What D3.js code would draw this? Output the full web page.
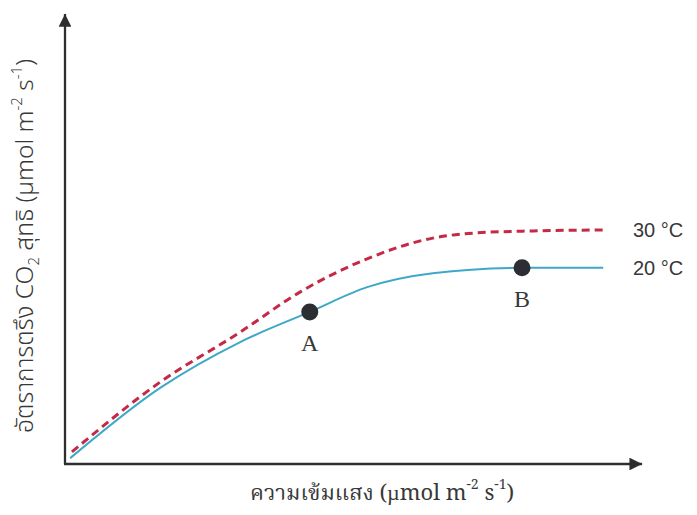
<!DOCTYPE html>
<html>
<head>
<meta charset="utf-8">
<script src="https://cdn.jsdelivr.net/npm/d3@7"></script>
<style>
  html, body { margin: 0; padding: 0; background: #fff; }
  svg { display: block; }
</style>
</head>
<body>
<svg id="chart" width="697" height="515"></svg>
<script>
// Light intensity (relative units) and net CO2 fixation rate (relative units)
const light20 = [0.9, 16.4, 30.2, 42.2, 52.1, 63.4, 78.8, 92.8];
const rate20  = [1.3, 16.9, 27.1, 33.8, 39.3, 42.4, 43.6, 43.6];
const light30 = [1.2, 16.4, 30.2, 40.5, 52.1, 63.4, 70.3, 80.7, 92.8];
const rate30  = [2.7, 18.2, 29.3, 38.2, 45.6, 50.2, 51.3, 51.8, 52.0];

const seriesNames = ["30 °C", "20 °C"];
const markerNames = ["A", "B"];
const markerLight = [42.2, 78.8];
const markerRate  = [33.8, 43.6];

const svg = d3.select("#chart");

const x = d3.scaleLinear().domain([0, 100]).range([65, 645]);
const y = d3.scaleLinear().domain([0, 100]).range([464, 14]);

const axisColor = "#2e2e2e";
const textColor = "#383838";

// Axes with arrowheads
svg.append("defs").append("marker")
  .attr("id", "arrow")
  .attr("viewBox", "0 0 10 10")
  .attr("refX", 10).attr("refY", 5)
  .attr("markerWidth", 7).attr("markerHeight", 5.5)
  .attr("markerUnits", "strokeWidth")
  .attr("orient", "auto")
  .append("path").attr("d", "M0,0 L10,5 L0,10 Z").attr("fill", axisColor);

svg.append("line")
  .attr("x1", x(0)).attr("y1", y(0))
  .attr("x2", x(0)).attr("y2", y(100))
  .attr("stroke", axisColor).attr("stroke-width", 2.3)
  .attr("marker-end", "url(#arrow)");

svg.append("line")
  .attr("x1", x(0) - 1).attr("y1", y(0))
  .attr("x2", x(99.5)).attr("y2", y(0))
  .attr("stroke", axisColor).attr("stroke-width", 2.3)
  .attr("marker-end", "url(#arrow)");

const line = d3.line()
  .x(d => x(d[0]))
  .y(d => y(d[1]))
  .curve(d3.curveMonotoneX);

// 20 °C curve (solid)
svg.append("path")
  .datum(d3.zip(light20, rate20))
  .attr("d", line)
  .attr("fill", "none")
  .attr("stroke", "#3fa8c8")
  .attr("stroke-width", 2);

// 30 °C curve (dashed)
svg.append("path")
  .datum(d3.zip(light30, rate30))
  .attr("d", line)
  .attr("fill", "none")
  .attr("stroke", "#c42a45")
  .attr("stroke-width", 3)
  .attr("stroke-dasharray", "8,5");

// Marked points A and B
svg.selectAll("circle.pt")
  .data(d3.zip(markerLight, markerRate))
  .join("circle")
  .attr("class", "pt")
  .attr("cx", d => x(d[0]))
  .attr("cy", d => y(d[1]))
  .attr("r", 8.5)
  .attr("fill", "#2b2e33");

svg.selectAll("text.ptlabel")
  .data(markerNames)
  .join("text")
  .attr("class", "ptlabel")
  .attr("x", (d, i) => x(markerLight[i]))
  .attr("y", (d, i) => y(markerRate[i]) + 39)
  .attr("text-anchor", "middle")
  .attr("font-family", "'Liberation Serif', 'DejaVu Serif', serif")
  .attr("font-size", 24)
  .attr("fill", textColor)
  .text(d => d);

// Series labels at the right end of each curve
const endRates = [rate30[rate30.length - 1], rate20[rate20.length - 1]];
svg.selectAll("text.series")
  .data(seriesNames)
  .join("text")
  .attr("class", "series")
  .attr("x", 633)
  .attr("y", (d, i) => y(endRates[i]) + 7)
  .attr("font-family", "'Liberation Sans', Arial, sans-serif")
  .attr("font-size", 20)
  .attr("fill", textColor)
  .text(d => d);

// X-axis title
const xt = svg.append("text")
  .attr("x", 250).attr("y", 500)
  .attr("font-family", "'Noto Serif Thai', 'Liberation Serif', 'Noto Sans Thai', serif")
  .attr("font-size", 22)
  .attr("fill", textColor);
xt.append("tspan").text("ความเข้มแสง (µmol m");
xt.append("tspan").attr("dy", -11).attr("font-size", 14).text("-2");
xt.append("tspan").attr("dy", 11).text(" s");
xt.append("tspan").attr("dy", -11).attr("font-size", 14).text("-1");
xt.append("tspan").attr("dy", 11).text(")");

// Y-axis title (rotated)
const yt = svg.append("text")
  .attr("transform", "translate(33,246) rotate(-90)")
  .attr("text-anchor", "middle")
  .attr("font-family", "'Noto Sans Thai', 'Noto Sans', 'Liberation Sans', sans-serif")
  .attr("font-size", 24.5)
  .attr("font-weight", 300)
  .attr("fill", textColor);
yt.append("tspan").text("อัตราการตรึง CO");
yt.append("tspan").attr("dy", 6).attr("font-size", 15).text("2");
yt.append("tspan").attr("dy", -6).text(" สุทธิ (µmol m");
yt.append("tspan").attr("dy", -11).attr("font-size", 15).text("-2");
yt.append("tspan").attr("dy", 11).text(" s");
yt.append("tspan").attr("dy", -11).attr("font-size", 15).text("-1");
yt.append("tspan").attr("dy", 11).text(")");
</script>
</body>
</html>
